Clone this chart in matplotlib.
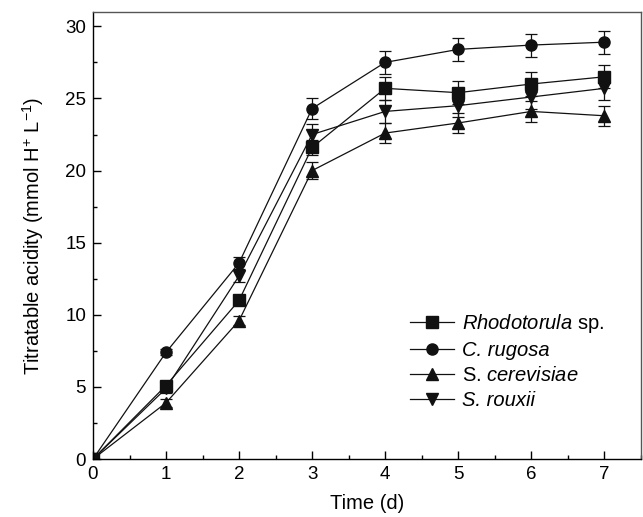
import numpy as np
import matplotlib.pyplot as plt
from matplotlib.ticker import MultipleLocator
from matplotlib.lines import Line2D

plt.rcParams['font.family'] = ['Liberation Sans', 'DejaVu Sans']
plt.rcParams['mathtext.fontset'] = 'custom'
plt.rcParams['mathtext.rm'] = 'Liberation Sans'
plt.rcParams['mathtext.it'] = 'Liberation Sans:italic'

# Data
days = [0, 1, 2, 3, 4, 5, 6, 7]

rhodotorula = [0, 5.1, 11.0, 21.6, 25.7, 25.4, 26.0, 26.5]
rhodotorula_err = [0, 0.3, 0.3, 0.5, 0.8, 0.8, 0.8, 0.8]

rugosa = [0, 7.4, 13.6, 24.3, 27.5, 28.4, 28.7, 28.9]
rugosa_err = [0, 0.2, 0.4, 0.7, 0.8, 0.8, 0.8, 0.8]

cerevisiae = [0, 3.9, 9.6, 20.0, 22.6, 23.3, 24.1, 23.8]
cerevisiae_err = [0, 0.3, 0.3, 0.6, 0.7, 0.7, 0.7, 0.7]

rouxii = [0, 4.9, 12.7, 22.5, 24.1, 24.5, 25.1, 25.7]
rouxii_err = [0, 0.3, 0.4, 0.7, 0.8, 0.8, 0.8, 0.8]

# (values, errors, marker, label, whole label italic?)
series = [
    (rhodotorula, rhodotorula_err, 's', r'$\it{Rhodotorula}$ sp.', False),
    (rugosa, rugosa_err, 'o', 'C. rugosa', True),
    (cerevisiae, cerevisiae_err, '^', r'S. $\it{cerevisiae}$', False),
    (rouxii, rouxii_err, 'v', 'S. rouxii', True),
]

fig = plt.figure(figsize=(6.43, 5.17), dpi=100)
ax = fig.add_axes([0.1446, 0.112, 0.852, 0.865])

handles = []
for vals, err, mk, lab, _ in series:
    ax.errorbar(days, vals, yerr=err, color='#111111', marker=mk, markersize=8,
                linewidth=0.9, elinewidth=0.9, capsize=4, capthick=0.9)
    handles.append(Line2D([], [], color='#111111', marker=mk, markersize=8,
                          linewidth=0.9, label=lab))

ax.set_xlim(0, 7.5)
ax.set_ylim(0, 31)
ax.xaxis.set_major_locator(MultipleLocator(1))
ax.xaxis.set_minor_locator(MultipleLocator(0.5))
ax.yaxis.set_major_locator(MultipleLocator(5))
ax.yaxis.set_minor_locator(MultipleLocator(2.5))
ax.tick_params(which='both', direction='in', labelsize=13.5, width=1)
ax.tick_params(which='major', length=6, pad=5)
ax.tick_params(which='minor', length=3)
for s in ax.spines.values():
    s.set_linewidth(1.0)
ax.spines['top'].set_color('#555555')
ax.spines['right'].set_color('#555555')

ax.set_xlabel('Time (d)', fontsize=14.5, labelpad=8)
ax.set_ylabel(r'Titratable acidity (mmol H$^{+}$ L$^{-1}$)', fontsize=14.5, labelpad=14)

leg = ax.legend(handles=handles, loc='lower left', bbox_to_anchor=(0.578, 0.11),
                borderaxespad=0, borderpad=0, frameon=False,
                fontsize=14.5, handlelength=2.2, labelspacing=0.3, handletextpad=0.4)
for txt, s in zip(leg.get_texts(), series):
    if s[4]:
        txt.set_fontstyle('italic')

fig.savefig('out.png', dpi=100)
